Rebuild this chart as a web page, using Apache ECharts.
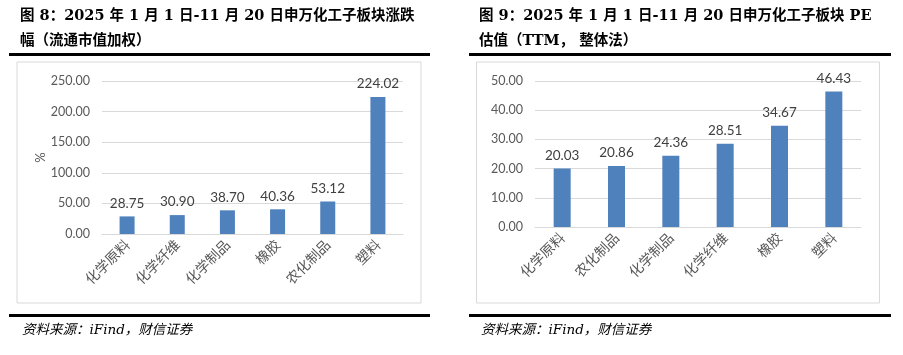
<!DOCTYPE html>
<html><head><meta charset="utf-8">
<script src="https://cdn.jsdelivr.net/npm/echarts@6/dist/echarts.min.js"></script>
<style>html,body{margin:0;padding:0;background:#fff;}#c{width:903px;height:355px;}</style>
</head><body><div id="c"></div>
<script>
const catsLeft = ['化学原料','化学纤维','化学制品','橡胶','农化制品','塑料'];
const valsLeft = [28.75, 30.90, 38.70, 40.36, 53.12, 224.02];
const ticksLeft = {min:0, max:250, interval:50};
const catsRight = ['化学原料','农化制品','化学制品','化学纤维','橡胶','塑料'];
const valsRight = [20.03, 20.86, 24.36, 28.51, 34.67, 46.43];
const ticksRight = {min:0, max:50, interval:10};
const titleLeft = ['图 8：2025 年 1 月 1 日-11 月 20 日申万化工子板块涨跌', '幅（流通市值加权）'];
const titleRight = ['图 9：2025 年 1 月 1 日-11 月 20 日申万化工子板块 PE', '估值（TTM， 整体法）'];
const source = '资料来源：iFind，财信证券';

const GRAY = '#595959';
const NUMFONT = 'Lato, "Noto Sans", sans-serif';
const CJK = '"Noto Sans CJK SC", sans-serif';
const TFONT = '"DejaVu Serif", "Noto Sans CJK SC", serif';

function yAxis(t, gi, name){
  return {type:'value', gridIndex:gi, min:t.min, max:t.max, interval:t.interval,
    name:name, nameLocation:'middle', nameGap:52, nameRotate:90,
    nameTextStyle:{color:GRAY, fontSize:13, fontFamily:NUMFONT},
    axisLine:{show:false}, axisTick:{show:false},
    axisLabel:{color:GRAY, fontSize:12.5, fontFamily:NUMFONT, margin:12, formatter:v=>v.toFixed(2)},
    splitLine:{lineStyle:{color:'#d9d9d9', width:1}}};
}
function xAxis(c, gi){
  return {type:'category', gridIndex:gi, data:c,
    axisLine:{show:true, lineStyle:{color:'#d9d9d9'}}, axisTick:{show:false},
    axisLabel:{color:GRAY, fontSize:14, fontFamily:CJK, rotate:45, margin:8, interval:0}};
}
function bar(v, gi, w){
  return {type:'bar', xAxisIndex:gi, yAxisIndex:gi, data:v, barWidth:w,
    itemStyle:{color:'#4F81BD'},
    label:{show:true, position:'top', distance:6, color:'#404040', fontSize:13.5, fontFamily:NUMFONT,
      formatter:p=>p.value.toFixed(2)}};
}
function txt(x,y,s,opt){
  return Object.assign({type:'text', x:x, y:y, style:Object.assign({text:s, fill:'#000', textVerticalAlign:'middle'}, opt||{})});
}

const chart = echarts.init(document.getElementById('c'), null, {renderer:'canvas'});
chart.setOption({
  animation:false,
  grid:[
    {left:102, right:500, top:81, bottom:121},
    {left:535, right:42, top:81, bottom:128}
  ],
  xAxis:[xAxis(catsLeft,0), xAxis(catsRight,1)],
  yAxis:[yAxis(ticksLeft,0,'%'), yAxis(ticksRight,1,'')],
  series:[bar(valsLeft,0,15), bar(valsRight,1,17)],
  graphic:[
    {type:'rect', shape:{x:17,y:62,width:404,height:241}, style:{fill:'none', stroke:'#d9d9d9', lineWidth:1}, z:-1},
    {type:'rect', shape:{x:476.5,y:62,width:403,height:241}, style:{fill:'none', stroke:'#d9d9d9', lineWidth:1}, z:-1},
    {type:'rect', shape:{x:9,y:53,width:421,height:3}, style:{fill:'#000'}},
    {type:'rect', shape:{x:469,y:53,width:422,height:3}, style:{fill:'#000'}},
    {type:'rect', shape:{x:9,y:314,width:421,height:3}, style:{fill:'#000'}},
    {type:'rect', shape:{x:469,y:314,width:422,height:3}, style:{fill:'#000'}},
    txt(20,16,titleLeft[0],{font:'bold 14.5px '+TFONT}),
    txt(20,41,titleLeft[1],{font:'bold 14.5px '+TFONT}),
    txt(479,16,titleRight[0],{font:'bold 14.5px '+TFONT}),
    txt(479,41,titleRight[1],{font:'bold 14.5px '+TFONT}),
    txt(22,330,source,{font:'italic 13.5px "DejaVu Serif", "Noto Sans CJK SC", serif'}),
    txt(481,330,source,{font:'italic 13.5px "DejaVu Serif", "Noto Sans CJK SC", serif'})
  ]
});
</script></body></html>
